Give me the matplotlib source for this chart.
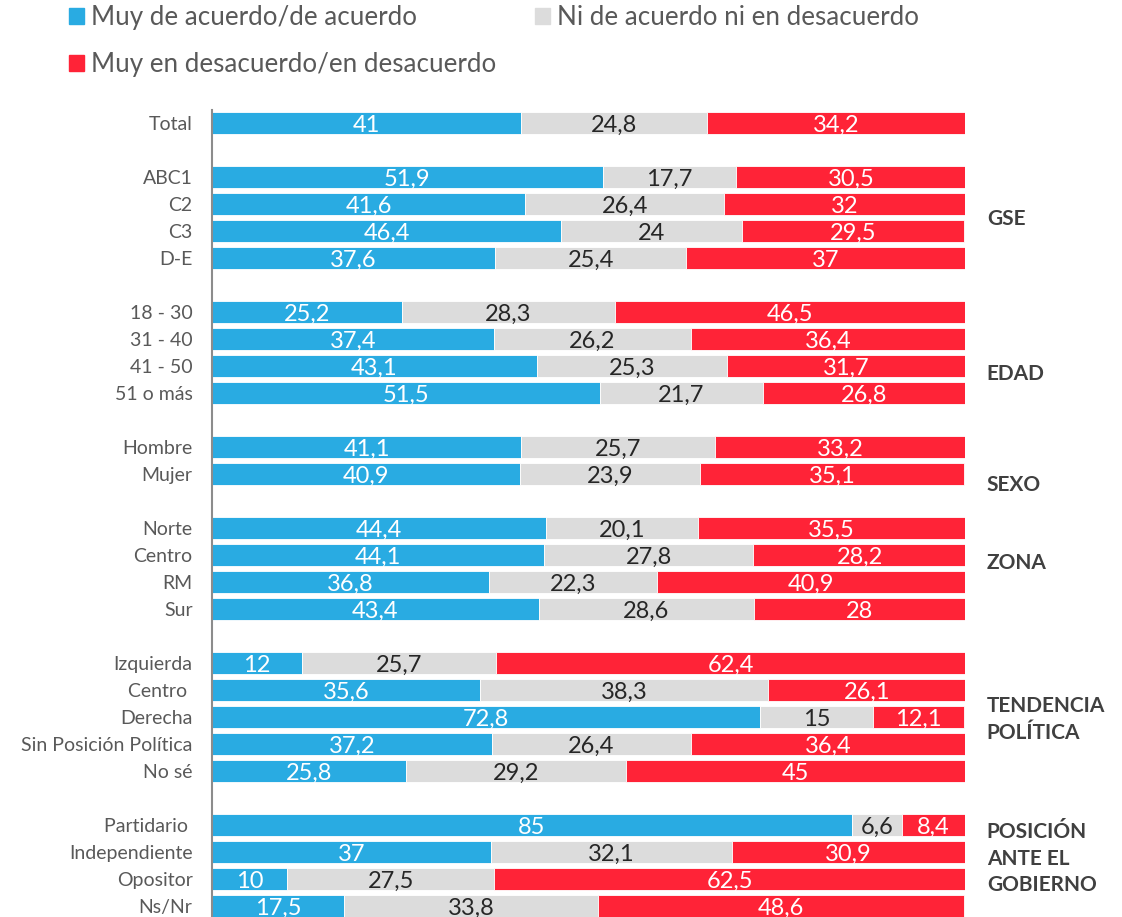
import matplotlib.pyplot as plt
from matplotlib.patches import Patch

plt.rcParams['font.family'] = ['Lato', 'DejaVu Sans']

# Categorías (None = fila vacía entre grupos)
categorias = ['Total', None,
              'ABC1', 'C2', 'C3', 'D-E', None,
              '18 - 30', '31 - 40', '41 - 50', '51 o más', None,
              'Hombre', 'Mujer', None,
              'Norte', 'Centro', 'RM', 'Sur', None,
              'Izquierda', 'Centro ', 'Derecha', 'Sin Posición Política', 'No sé', None,
              'Partidario ', 'Independiente', 'Opositor', 'Ns/Nr']

acuerdo = [41, None,
           51.9, 41.6, 46.4, 37.6, None,
           25.2, 37.4, 43.1, 51.5, None,
           41.1, 40.9, None,
           44.4, 44.1, 36.8, 43.4, None,
           12, 35.6, 72.8, 37.2, 25.8, None,
           85, 37, 10, 17.5]

neutral = [24.8, None,
           17.7, 26.4, 24, 25.4, None,
           28.3, 26.2, 25.3, 21.7, None,
           25.7, 23.9, None,
           20.1, 27.8, 22.3, 28.6, None,
           25.7, 38.3, 15, 26.4, 29.2, None,
           6.6, 32.1, 27.5, 33.8]

desacuerdo = [34.2, None,
              30.5, 32, 29.5, 37, None,
              46.5, 36.4, 31.7, 26.8, None,
              33.2, 35.1, None,
              35.5, 28.2, 40.9, 28, None,
              62.4, 26.1, 12.1, 36.4, 45, None,
              8.4, 30.9, 62.5, 48.6]

grupos = [('GSE', 3.55), ('EDAD', 9.3), ('SEXO', 13.4),
          ('ZONA', 16.3), ('TENDENCIA\nPOLÍTICA', 22.1),
          ('POSICIÓN\nANTE EL\nGOBIERNO', 27.25)]

AZUL = '#29ABE2'
GRIS = '#DCDCDC'
ROJO = '#FF2337'


def fmt(v):
    s = ('%.1f' % v).rstrip('0').rstrip('.')
    return s.replace('.', ',')


fig = plt.figure(figsize=(11.22, 9.17), dpi=100)
ax = fig.add_axes([212 / 1122, 0, (965 - 212) / 1122, 807 / 917])

filas = [i for i, c in enumerate(categorias) if c is not None]
series = [(acuerdo, AZUL, 'white'), (neutral, GRIS, '#262626'), (desacuerdo, ROJO, 'white')]

izq = {i: 0.0 for i in filas}
for valores, color, color_txt in series:
    for i in filas:
        v = valores[i]
        ax.barh(i, v, left=izq[i], height=0.82, color=color,
                edgecolor='white', linewidth=0.6)
        ax.text(izq[i] + v / 2, i + 0.1, fmt(v), ha='center', va='center',
                fontsize=17, color=color_txt)
        izq[i] += v

ax.set_yticks(filas)
ax.set_yticklabels([categorias[i] for i in filas], fontsize=14, color='#595959')
ax.tick_params(axis='y', length=0, pad=14)
ax.set_xticks([])
ax.set_xlim(0, 100)
ax.set_ylim(29 + 11 / 27, -0.48)

for lado in ['top', 'right', 'bottom']:
    ax.spines[lado].set_visible(False)
ax.spines['left'].set_color('#8C8C8C')
ax.spines['left'].set_linewidth(1.5)

for nombre, y in grupos:
    ax.text(102.9, y, nombre, ha='left', va='center', fontsize=15,
            fontweight='bold', color='#404040', linespacing=1.4, clip_on=False)

handles = [Patch(color=AZUL, label='Muy de acuerdo/de acuerdo'),
           Patch(color=ROJO, label='Muy en desacuerdo/en desacuerdo'),
           Patch(color=GRIS, label='Ni de acuerdo ni en desacuerdo')]
fig.legend(handles=handles, ncol=2, loc='upper left', bbox_to_anchor=(0.041, 1.02),
           frameon=False, fontsize=18.7, handlelength=0.58, handleheight=0.58,
           handletextpad=0.25, columnspacing=1.5, labelspacing=0.85,
           labelcolor='#595959')

fig.savefig('out.png', dpi=100)
